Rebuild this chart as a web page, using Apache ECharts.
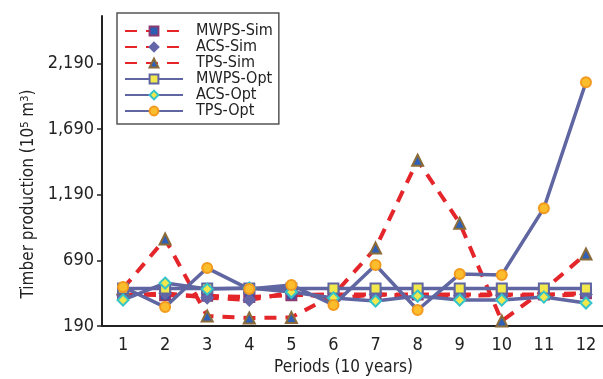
<!DOCTYPE html>
<html>
<head>
<meta charset="utf-8">
<script src="https://cdn.jsdelivr.net/npm/echarts@6/dist/echarts.min.js"></script>
<style>
  html, body { margin: 0; padding: 0; background: #fff; }
  #chart { width: 603px; height: 379px; }
</style>
</head>
<body>
<div id="chart"></div>
<script>
// Values (10^5 m^3), periods of 10 years
const periods = ['1', '2', '3', '4', '5', '6', '7', '8', '9', '10', '11', '12']
const mwpsSim = [430, 425, 420, 410, 425, 430, 430, 430, 430, 430, 430, 440]
const acsSim = [420, 440, 405, 388, 445, 400, 430, 420, 420, 425, 420, 430]
const tpsSim = [475, 852, 266, 251, 255, 426, 783, 1452, 973, 228, 464, 738]
const mwpsOpt = [475, 475, 475, 475, 475, 475, 475, 475, 475, 475, 475, 475]
const acsOpt = [388, 517, 471, 479, 449, 403, 380, 418, 388, 388, 410, 365]
const tpsOpt = [487, 334, 631, 471, 502, 350, 654, 312, 585, 578, 1087, 2046]
const yTicks = { min: 190, step: 500 }

const FONT = '"Liberation Sans Narrow", "DejaVu Sans Condensed", "Liberation Sans", sans-serif'
const RED = '#e4262b'
const SLATE = '#5f66a1'

function sim(name, data, symbol, fill, border, size) {
  return {
    name, type: 'line', data, symbol, symbolSize: size,
    lineStyle: { color: RED, width: 4, type: [12, 9] },
    itemStyle: { color: fill, borderColor: border, borderWidth: 2 },
    emphasis: { disabled: true },
    z: 2,
  }
}

function opt(name, data, symbol, fill, border, size) {
  return {
    name, type: 'line', data, symbol, symbolSize: size,
    lineStyle: { color: SLATE, width: 3.5 },
    itemStyle: { color: fill, borderColor: border, borderWidth: 2 },
    emphasis: { disabled: true },
    z: 3,
  }
}

const chart = echarts.init(document.getElementById('chart'), null, { renderer: 'canvas' })
chart.setOption({
  animation: false,
  textStyle: { fontFamily: FONT },
  // keep the plot box fixed; labels may sit outside it
  grid: { left: 102, right: -4, top: 16, bottom: 53, outerBoundsMode: 'none', containLabel: false },
  legend: {
    orient: 'vertical',
    left: 117,
    top: 13,
    padding: [10, 6, 5, 7],
    itemWidth: 58,
    itemHeight: 11,
    itemGap: 0,
    backgroundColor: '#fff',
    borderColor: '#555',
    borderWidth: 1.5,
    borderRadius: 0,
    textStyle: { fontFamily: FONT, fontSize: 16, lineHeight: 16, color: '#222', padding: [0, 0, 0, 8] },
    data: ['MWPS-Sim', 'ACS-Sim', 'TPS-Sim', 'MWPS-Opt', 'ACS-Opt', 'TPS-Opt'],
  },
  xAxis: {
    type: 'category',
    data: periods,
    boundaryGap: true,
    name: 'Periods (10 years)',
    nameLocation: 'middle',
    nameGap: 33,
    nameTextStyle: { fontFamily: FONT, fontSize: 17, color: '#222', padding: [0, 22, 0, 0] },
    axisLine: { lineStyle: { color: '#222', width: 2 } },
    axisTick: { show: false },
    axisLabel: { fontFamily: FONT, fontSize: 18, color: '#222', margin: 10 },
  },
  yAxis: {
    type: 'value',
    min: yTicks.min,
    max: 2550,
    interval: yTicks.step,
    name: '{t|Timber production (10}{s|5}{t| m}{s|3}{t|)}',
    nameLocation: 'middle',
    nameRotate: 90,
    nameGap: 62,
    nameTextStyle: {
      padding: [0, 46, 0, 0],
      rich: {
        t: { fontFamily: FONT, fontSize: 17, color: '#222' },
        s: { fontFamily: FONT, fontSize: 11, color: '#222', verticalAlign: 'top' },
      },
    },
    splitLine: { show: false },
    axisLine: { show: true, lineStyle: { color: '#222', width: 2 } },
    axisTick: { show: true, length: 5, lineStyle: { color: '#222', width: 1.5 } },
    axisLabel: {
      fontFamily: FONT, fontSize: 18, color: '#222', margin: 8, showMaxLabel: false,
      formatter: (v) => v.toLocaleString('en-US'),
    },
  },
  series: [
    sim('MWPS-Sim', mwpsSim, 'rect', '#2b5db3', '#8b3a72', 10),
    sim('ACS-Sim', acsSim, 'diamond', '#6566a8', '#6566a8', 11),
    sim('TPS-Sim', tpsSim, 'triangle', '#2f60b8', '#8b6b3a', 11),
    opt('MWPS-Opt', mwpsOpt, 'rect', '#f2e84b', SLATE, 10),
    opt('ACS-Opt', acsOpt, 'diamond', '#f2e84b', '#35c4c8', 11),
    opt('TPS-Opt', tpsOpt, 'circle', '#fbbd2c', '#f39a1e', 10),
  ],
})
</script>
</body>
</html>
